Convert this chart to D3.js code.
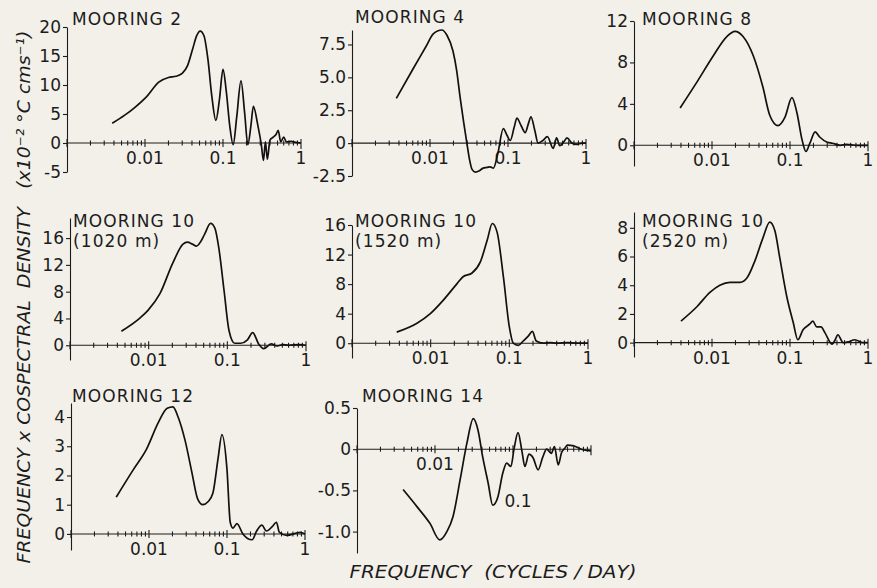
<!DOCTYPE html>
<html>
<head>
<meta charset="utf-8">
<script src="https://cdn.jsdelivr.net/npm/d3@7"></script>
<style>
  body { margin: 0; background: #f2f0e9; }
  #wrapper { width: 877px; height: 588px; }
  text { font-family: "DejaVu Sans", sans-serif; fill: #1c1c1c; }
</style>
</head>
<body>
<div id="wrapper"></div>
<script>
/* data: frequency (cycles/day) and frequency x cospectral density */
const freq2  = [0.0038, 0.0055, 0.0075, 0.0105, 0.015, 0.02, 0.025, 0.03, 0.035, 0.041, 0.046, 0.051, 0.057, 0.064, 0.072, 0.081, 0.09, 0.1, 0.11, 0.122, 0.135, 0.15, 0.17, 0.19, 0.208, 0.228, 0.245, 0.28, 0.31, 0.33, 0.35, 0.37, 0.4, 0.44, 0.48, 0.51, 0.55, 0.6, 0.65, 0.75, 0.85, 1.0];
const dens2  = [3.4, 4.8, 6.2, 8.0, 10.5, 11.3, 11.5, 12.0, 13.3, 16.3, 18.5, 19.3, 18.5, 14.5, 8.0, 3.9, 7.5, 12.7, 9.0, 3.0, -0.3, 4.5, 10.7, 5.0, -0.3, 3.0, 6.3, 3.0, -0.3, -3.0, 0.2, -2.8, 0.5, 1.0, 1.5, 2.2, 0.2, 1.0, 0.2, 0.3, 0.1, 0];

const freq4  = [0.0037, 0.006, 0.009, 0.011, 0.0142, 0.0165, 0.0197, 0.022, 0.0243, 0.027, 0.0297, 0.032, 0.0346, 0.038, 0.043, 0.048, 0.054, 0.059, 0.065, 0.074, 0.087, 0.097, 0.107, 0.12, 0.13, 0.148, 0.166, 0.183, 0.197, 0.22, 0.243, 0.28, 0.32, 0.38, 0.42, 0.46, 0.52, 0.57, 0.66, 0.77, 0.88, 1.0];
const dens4  = [3.4, 5.6, 7.4, 8.3, 8.6, 8.2, 7.0, 5.5, 3.5, 1.6, 0, -1.2, -2.0, -2.2, -2.1, -1.9, -1.85, -1.8, -1.9, -0.8, 1.1, 0.6, 0.2, 1.2, 1.9, 1.3, 0.8, 1.5, 2.0, 1.0, 0, 0.2, 0.5, -0.4, 0.4, -0.2, 0.1, 0.4, 0, -0.1, 0, 0];

const freq8  = [0.0039, 0.0064, 0.0103, 0.0155, 0.0197, 0.025, 0.034, 0.045, 0.055, 0.07, 0.086, 0.106, 0.123, 0.143, 0.16, 0.18, 0.21, 0.24, 0.3, 0.35, 0.44, 0.53, 0.72, 1.0];
const dens8  = [3.6, 6.1, 8.6, 10.5, 11.0, 10.5, 8.6, 5.6, 2.9, 1.9, 2.7, 4.6, 3.1, 0.5, -0.6, 0.2, 1.3, 0.8, 0.3, 0.2, 0, 0.1, 0, 0];

const freq10a = [0.0045, 0.0078, 0.0098, 0.0139, 0.0203, 0.0273, 0.031, 0.036, 0.0405, 0.046, 0.0515, 0.0612, 0.0694, 0.078, 0.091, 0.105, 0.124, 0.148, 0.18, 0.21, 0.25, 0.29, 0.36, 0.43, 0.51, 0.6, 0.83, 1.0];
const dens10a = [2.1, 4.1, 5.2, 7.7, 12.3, 15.1, 15.4, 15.1, 14.8, 15.5, 16.6, 18.2, 17.5, 14.5, 8.1, 2.2, 0.3, 0.3, 0.8, 1.9, 0.2, -0.5, 0.2, -0.1, 0.1, 0, 0.1, 0];

const freq10b = [0.0037, 0.0067, 0.0099, 0.0144, 0.0218, 0.0258, 0.0336, 0.0428, 0.0525, 0.0607, 0.07, 0.084, 0.1, 0.112, 0.13, 0.15, 0.175, 0.196, 0.22, 0.27, 0.33, 0.4, 0.55, 0.73, 1.0];
const dens10b = [1.5, 2.7, 4.0, 5.8, 8.1, 9.0, 9.5, 11.0, 14.0, 16.2, 15.0, 9.0, 2.2, 0, -0.3, 0.3, 1.0, 1.6, 0.3, 0, 0.1, 0, 0.1, 0, 0];

const freq10c = [0.004, 0.0064, 0.0094, 0.0126, 0.017, 0.0229, 0.028, 0.0355, 0.045, 0.055, 0.064, 0.074, 0.091, 0.11, 0.126, 0.147, 0.18, 0.196, 0.22, 0.25, 0.28, 0.345, 0.38, 0.41, 0.48, 0.55, 0.68, 0.86, 1.0];
const dens10c = [1.5, 2.5, 3.5, 4.0, 4.2, 4.2, 4.5, 5.7, 7.3, 8.4, 7.8, 5.9, 3.2, 1.4, 0.2, 0.9, 1.3, 1.5, 1.1, 1.1, 0.7, -0.1, 0.2, 0.55, 0, 0.05, 0.2, 0, 0];

const freq12 = [0.0038, 0.0063, 0.0093, 0.0131, 0.0171, 0.0203, 0.0236, 0.029, 0.0355, 0.042, 0.049, 0.057, 0.066, 0.077, 0.086, 0.1, 0.11, 0.119, 0.134, 0.16, 0.21, 0.24, 0.28, 0.32, 0.38, 0.43, 0.47, 0.58, 0.87, 1.0];
const dens12 = [1.26, 2.2, 2.9, 3.8, 4.3, 4.35, 4.0, 3.2, 2.1, 1.2, 1.0, 1.1, 1.4, 2.6, 3.4, 2.2, 0.4, 0.2, 0.35, 0, -0.2, 0.1, 0.3, 0.1, 0.25, 0.4, 0.05, -0.05, 0.05, 0];

const freq14 = [0.0039, 0.0059, 0.0086, 0.0115, 0.0142, 0.017, 0.021, 0.0256, 0.031, 0.0356, 0.041, 0.048, 0.055, 0.064, 0.074, 0.083, 0.094, 0.103, 0.116, 0.13, 0.142, 0.16, 0.18, 0.21, 0.24, 0.27, 0.31, 0.34, 0.38, 0.42, 0.46, 0.5, 0.6, 0.75, 1.0];
const dens14 = [-0.49, -0.7, -0.9, -1.1, -1.0, -0.82, -0.37, 0.07, 0.37, 0.23, -0.1, -0.41, -0.68, -0.58, -0.29, -0.17, -0.21, 0.0, 0.2, -0.02, -0.21, -0.06, -0.1, -0.25, -0.1, 0.0, -0.05, 0.03, -0.19, -0.04, 0.01, 0.05, 0.04, 0.0, -0.02];

/* panel titles, y domains and tick labels */
const titles = [["MOORING 2"], ["MOORING 4"], ["MOORING 8"],
  ["MOORING 10", "(1020 m)"], ["MOORING 10", "(1520 m)"], ["MOORING 10", "(2520 m)"],
  ["MOORING 12"], ["MOORING 14"]];
const yDomains = [[-5, 20], [-2.5, 8.6], [-2, 12], [-2.2, 19], [-2, 16], [-1, 9.1], [-0.55, 4.48], [-1.26, 0.5]];
const yTicks = [[-5, 0, 5, 10, 15, 20], [-2.5, 0, 2.5, 5, 7.5], [0, 4, 8, 12], [0, 4, 8, 12, 16],
  [0, 4, 8, 12, 16], [0, 2, 4, 6, 8], [0, 1, 2, 3, 4], [-1, -0.5, 0, 0.5]];
const yTickLabels = [["-5", "0", "5", "10", "15", "20"], ["-2.5", "0", "2.5", "5.0", "7.5"], ["0", "4", "8", "12"],
  ["0", "4", "8", "12", "16"], ["0", "4", "8", "12", "16"], ["0", "2", "4", "6", "8"],
  ["0", "1", "2", "3", "4"], ["-1.0", "-0.5", "0", "0.5"]];
const xLabelValues = [0.01, 0.1, 1];
const xLabelText = ["0.01", "0.1", "1"];
const xLabelShown = [[1, 1, 1], [1, 1, 1], [1, 1, 1], [1, 1, 1], [1, 1, 1], [1, 1, 1], [1, 1, 1], [1, 1, 0]];

const freqs = [freq2, freq4, freq8, freq10a, freq10b, freq10c, freq12, freq14];
const dens = [dens2, dens4, dens8, dens10a, dens10b, dens10c, dens12, dens14];

function drawChart() {

/* step 1: canvas */
  const width = 877;
  const height = 588;
  const svg = d3.select("#wrapper")
    .append("svg")
    .attr("width", width)
    .attr("height", height);

  svg.append("rect")
    .attr("width", width)
    .attr("height", height)
    .attr("fill", "#f2f0e9");

/* step 2: where every small panel sits (pixels) */
  const layout = [
    {x0: 67,  x1: 301, yTop: 27,  yBot: 172, tx: 72,  ty: [25]},
    {x0: 352, x1: 586, yTop: 30,  yBot: 176, tx: 355, ty: [23]},
    {x0: 634, x1: 868, yTop: 21,  yBot: 166, tx: 642, ty: [25]},
    {x0: 70,  x1: 306, yTop: 218, yBot: 360, tx: 73,  ty: [227, 247]},
    {x0: 352, x1: 588, yTop: 225, yBot: 358, tx: 355, ty: [227, 247]},
    {x0: 634, x1: 868, yTop: 212, yBot: 357, tx: 642, ty: [227, 247]},
    {x0: 71,  x1: 305, yTop: 403, yBot: 550, tx: 72,  ty: [402]},
    {x0: 357, x1: 591, yTop: 408, yBot: 553, tx: 362, ty: [402]}
  ];
  const ink = "#1c1c1c";

/* step 3: one panel each */
  layout.forEach(function(L, i) {
    const g = svg.append("g");

    const xScale = d3.scaleLog()
      .domain([0.001, 1])
      .range([L.x0, L.x1]);
    const yScale = d3.scaleLinear()
      .domain(yDomains[i])
      .range([L.yBot, L.yTop]);
    const y0 = yScale(0);

    // left axis
    const yAxis = d3.axisLeft(yScale)
      .tickValues(yTicks[i])
      .tickSize(4)
      .tickSizeOuter(0)
      .tickPadding(2)
      .tickFormat(function(d, j) { return yTickLabels[i][j]; });
    const ya = g.append("g")
      .attr("transform", "translate(" + L.x0 + ",0)")
      .call(yAxis);
    ya.select(".domain").attr("stroke", ink).attr("stroke-width", 1.1);
    ya.selectAll(".tick line").attr("stroke", ink).attr("stroke-width", 1.1);
    ya.selectAll(".tick text")
      .attr("font-family", "DejaVu Sans, sans-serif")
      .attr("font-size", 17)
      .attr("fill", ink);

    // zero line with log ticks
    g.append("line")
      .attr("x1", L.x0).attr("x2", L.x1)
      .attr("y1", y0).attr("y2", y0)
      .attr("stroke", ink).attr("stroke-width", 1.1);

    const ticks = xScale.ticks();
    g.selectAll(".xt")
      .data(ticks)
      .enter()
      .append("line")
      .attr("x1", function(d) { return xScale(d); })
      .attr("x2", function(d) { return xScale(d); })
      .attr("y1", function(d) {
        const major = Math.abs(Math.log10(d) - Math.round(Math.log10(d))) < 1e-6;
        return y0 - (major ? 4 : 2.5);
      })
      .attr("y2", function(d) {
        const major = Math.abs(Math.log10(d) - Math.round(Math.log10(d))) < 1e-6;
        if (d === 1) return y0 + 6;
        return y0 + (major ? 4 : 2.5);
      })
      .attr("stroke", ink)
      .attr("stroke-width", 1.1);

    // x labels
    xLabelValues.forEach(function(v, j) {
      if (!xLabelShown[i][j]) return;
      let lx = xScale(v);
      let ly = y0 + 21;
      if (i === 7 && v === 0.1) { lx += 5; ly = yScale(-0.7); }
      g.append("text")
        .attr("x", lx)
        .attr("y", ly)
        .attr("text-anchor", "middle")
        .attr("font-size", 17)
        .text(xLabelText[j]);
    });

    // title
    titles[i].forEach(function(t, k) {
      g.append("text")
        .attr("x", L.tx)
        .attr("y", L.ty[k])
        .attr("font-size", 17)
        .attr("letter-spacing", 1.1)
        .text(t);
    });

    // the curve
    const pts = freqs[i].map(function(f, k) { return [f, dens[i][k]]; });
    const line = d3.line()
      .x(function(d) { return xScale(d[0]); })
      .y(function(d) { return yScale(d[1]); })
      .curve(d3.curveMonotoneX);
    g.append("path")
      .datum(pts)
      .attr("d", line)
      .attr("fill", "none")
      .attr("stroke", "#111")
      .attr("stroke-width", 1.7)
      .attr("stroke-linejoin", "round");
  });

/* step 4: shared axis titles */
  svg.append("text")
    .attr("transform", "translate(30,297) rotate(-90)")
    .attr("text-anchor", "middle")
    .attr("font-size", 18)
    .attr("font-style", "italic")
    .attr("textLength", 533)
    .attr("lengthAdjust", "spacingAndGlyphs")
    .style("white-space", "pre")
    .text("FREQUENCY x COSPECTRAL  DENSITY   (x10\u207B\u00B2 \u00B0C cms\u207B\u00B9)");

  svg.append("text")
    .attr("x", 493)
    .attr("y", 578)
    .attr("text-anchor", "middle")
    .attr("font-size", 18)
    .attr("font-style", "italic")
    .attr("textLength", 287)
    .attr("lengthAdjust", "spacingAndGlyphs")
    .style("white-space", "pre")
    .text("FREQUENCY  (CYCLES / DAY)");
}
drawChart();
</script>
</body>
</html>
